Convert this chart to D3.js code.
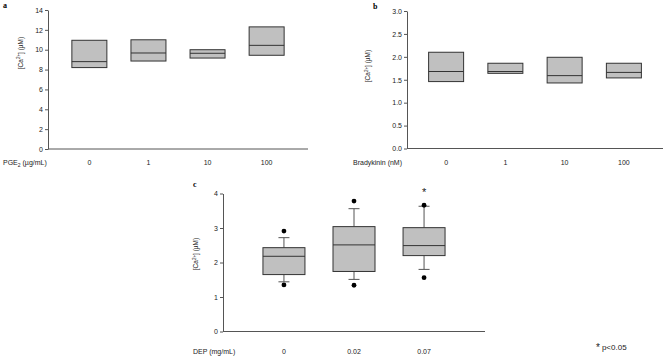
<!DOCTYPE html>
<html>
<head>
<meta charset="utf-8">
<script src="https://cdn.jsdelivr.net/npm/d3@7"></script>
<style>
	body { margin: 0; background: #fff; }
	svg { display: block; font-family: "Liberation Sans", Arial, sans-serif; }
	.axis path, .axis line { stroke: #555; }
	.axis text { fill: #222; font-size: 7px; font-family: "Liberation Sans", Arial, sans-serif; }
</style>
</head>
<body>
<div id="chart-area"></div>
<script>
// panel a - PGE2
var pgeDoses = ["0", "1", "10", "100"];
var pgeLow = [8.2, 8.86, 9.16, 9.44];
var pgeMedian = [8.8, 9.67, 9.64, 10.44];
var pgeHigh = [10.95, 11.0, 10.0, 12.3];
var pgeTicks = [0, 2, 4, 6, 8, 10, 12, 14];

// panel b - bradykinin
var bkDoses = ["0", "1", "10", "100"];
var bkLow = [1.46, 1.64, 1.43, 1.54];
var bkMedian = [1.68, 1.68, 1.59, 1.66];
var bkHigh = [2.10, 1.86, 1.99, 1.86];
var bkTicks = [0, 0.5, 1.0, 1.5, 2.0, 2.5, 3.0];

// panel c - DEP
var depDoses = ["0", "0.02", "0.07"];
var depQ1 = [1.65, 1.74, 2.20];
var depMedian = [2.18, 2.51, 2.49];
var depQ3 = [2.43, 3.04, 3.01];
var depWhiskerLow = [1.44, 1.51, 1.80];
var depWhiskerHigh = [2.72, 3.56, 3.63];
var depOutLow = [1.35, 1.34, 1.56];
var depOutHigh = [2.91, 3.78, 3.66];
var depStar = [false, false, true];
var depTicks = [0, 1, 2, 3, 4];

var boxFill = "#c0c0c0";
var boxStroke = "#333";

var svg = d3.select("#chart-area")
	.append("svg")
	.attr("width", 667)
	.attr("height", 356);

function drawPanel(p){
	var x = d3.scalePoint()
		.domain(p.cats)
		.range([p.left, p.right])
		.padding(p.pad);
	var y = d3.scaleLinear()
		.domain([0, p.yMax])
		.range([p.bottom, p.top]);

	// y axis with ticks
	svg.append("g")
		.attr("class", "axis")
		.attr("transform", "translate(" + p.left + ",0)")
		.call(d3.axisLeft(y).tickValues(p.ticks).tickSize(3).tickPadding(2).tickSizeOuter(0)
			.tickFormat(p.fmt));

	// x axis line only
	svg.append("line")
		.attr("x1", p.left).attr("x2", p.right)
		.attr("y1", p.bottom).attr("y2", p.bottom)
		.attr("stroke", "#555");

	// category labels under the axis
	svg.selectAll(null)
		.data(p.cats)
		.enter().append("text")
		.attr("x", function(d){ return x(d); })
		.attr("y", p.labelY)
		.attr("text-anchor", "middle")
		.attr("font-size", 7)
		.attr("fill", "#222")
		.text(function(d){ return d; });

	// panel letter
	svg.append("text")
		.attr("x", p.letterX)
		.attr("y", p.letterY)
		.attr("font-family", "Liberation Serif, serif")
		.attr("font-weight", "bold")
		.attr("font-size", 8)
		.text(p.letter);

	// y label [Ca2+] (µM)
	var yl = svg.append("text")
		.attr("transform", "translate(" + p.ylabX + "," + p.ylabY + ") rotate(-90)")
		.attr("text-anchor", "middle")
		.attr("font-size", 6.5)
		.attr("fill", "#222");
	yl.append("tspan").text("[Ca");
	yl.append("tspan").attr("font-size", 4.5).attr("dy", -2.5).text("2+");
	yl.append("tspan").attr("dy", 2.5).text("] (\u00b5M)");

	return {x: x, y: y};
}

// ---- panel a
var a = drawPanel({
	cats: pgeDoses, left: 48, right: 308, pad: 0.7, top: 10, bottom: 149,
	yMax: 14, ticks: pgeTicks, fmt: d3.format("d"), labelY: 165,
	letter: "a", letterX: 3, letterY: 8, ylabX: 22.5, ylabY: 53
});
var aLab = svg.append("text").attr("x", 3).attr("y", 165).attr("font-size", 7).attr("fill", "#222");
aLab.append("tspan").text("PGE");
aLab.append("tspan").attr("font-size", 5).attr("dy", 1.5).text("2");
aLab.append("tspan").attr("dy", -1.5).text(" (\u00b5g/mL)");

pgeDoses.forEach(function(d, i){
	svg.append("rect")
		.attr("x", a.x(d) - 17.5)
		.attr("width", 35)
		.attr("y", a.y(pgeHigh[i]))
		.attr("height", a.y(pgeLow[i]) - a.y(pgeHigh[i]))
		.attr("fill", boxFill).attr("stroke", boxStroke).attr("stroke-width", 1);
	svg.append("line")
		.attr("x1", a.x(d) - 17.5).attr("x2", a.x(d) + 17.5)
		.attr("y1", a.y(pgeMedian[i])).attr("y2", a.y(pgeMedian[i]))
		.attr("stroke", boxStroke);
});

// ---- panel b
var b = drawPanel({
	cats: bkDoses, left: 407, right: 663, pad: 0.66, top: 11, bottom: 148.5,
	yMax: 3, ticks: bkTicks, fmt: d3.format(".1f"), labelY: 165,
	letter: "b", letterX: 373, letterY: 9, ylabX: 370, ylabY: 66
});
svg.append("text").attr("x", 353).attr("y", 165).attr("font-size", 7).attr("fill", "#222")
	.text("Bradykinin (nM)");

bkDoses.forEach(function(d, i){
	svg.append("rect")
		.attr("x", b.x(d) - 17.5)
		.attr("width", 35)
		.attr("y", b.y(bkHigh[i]))
		.attr("height", b.y(bkLow[i]) - b.y(bkHigh[i]))
		.attr("fill", boxFill).attr("stroke", boxStroke).attr("stroke-width", 1);
	svg.append("line")
		.attr("x1", b.x(d) - 17.5).attr("x2", b.x(d) + 17.5)
		.attr("y1", b.y(bkMedian[i])).attr("y2", b.y(bkMedian[i]))
		.attr("stroke", boxStroke);
});

// ---- panel c
var c = drawPanel({
	cats: depDoses, left: 223, right: 485, pad: 0.87, top: 193.5, bottom: 331.5,
	yMax: 4, ticks: depTicks, fmt: d3.format("d"), labelY: 354,
	letter: "c", letterX: 193, letterY: 187, ylabX: 198, ylabY: 254
});
svg.append("text").attr("x", 193).attr("y", 354).attr("font-size", 7).attr("fill", "#222")
	.text("DEP (mg/mL)");

var bw = 42;
depDoses.forEach(function(d, i){
	var cx = c.x(d);
	// whiskers
	svg.append("line")
		.attr("x1", cx).attr("x2", cx)
		.attr("y1", c.y(depWhiskerHigh[i])).attr("y2", c.y(depQ3[i]))
		.attr("stroke", "#555");
	svg.append("line")
		.attr("x1", cx).attr("x2", cx)
		.attr("y1", c.y(depQ1[i])).attr("y2", c.y(depWhiskerLow[i]))
		.attr("stroke", "#555");
	[depWhiskerHigh[i], depWhiskerLow[i]].forEach(function(v){
		svg.append("line")
			.attr("x1", cx - 5.5).attr("x2", cx + 5.5)
			.attr("y1", c.y(v)).attr("y2", c.y(v))
			.attr("stroke", "#555");
	});
	svg.append("rect")
		.attr("x", cx - bw / 2)
		.attr("width", bw)
		.attr("y", c.y(depQ3[i]))
		.attr("height", c.y(depQ1[i]) - c.y(depQ3[i]))
		.attr("fill", boxFill).attr("stroke", boxStroke).attr("stroke-width", 1);
	svg.append("line")
		.attr("x1", cx - bw / 2).attr("x2", cx + bw / 2)
		.attr("y1", c.y(depMedian[i])).attr("y2", c.y(depMedian[i]))
		.attr("stroke", boxStroke);
	// outliers
	[depOutHigh[i], depOutLow[i]].forEach(function(v){
		svg.append("circle")
			.attr("cx", cx).attr("cy", c.y(v)).attr("r", 2.4)
			.attr("fill", "#000");
	});
	if (depStar[i]) {
		svg.append("text")
			.attr("x", cx).attr("y", c.y(depOutHigh[i]) - 9)
			.attr("text-anchor", "middle")
			.attr("font-size", 11)
			.attr("fill", "#222")
			.text("*");
	}
});

// significance note
var note = svg.append("text").attr("x", 596).attr("y", 350).attr("fill", "#222");
note.append("tspan").attr("font-size", 10).attr("dy", 1).text("*");
note.append("tspan").attr("font-size", 8).attr("dx", 2).attr("dy", -1).text("p<0.05");
</script>
</body>
</html>
